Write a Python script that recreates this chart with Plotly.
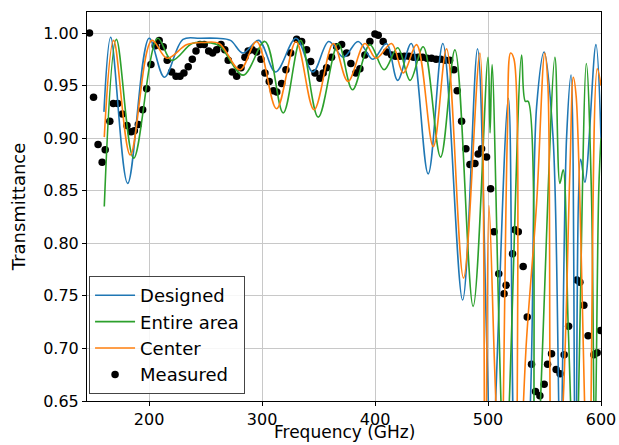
import plotly.graph_objects as go

# ---------------- data ----------------
designed_f = [160, 166, 181, 200, 213.5, 230, 245, 260, 272, 283, 297, 312, 330, 345, 359, 372,
              385, 398, 410, 420, 432, 447, 460, 477.5, 490.7, 499, 503, 518, 526, 535, 543,
              549.6, 557.6, 564, 569.5, 573.5, 577.5, 582, 585.7, 595.5, 600]
designed_T = [0.925, 0.996, 0.857, 0.995, 0.958, 0.994, 0.995, 0.995, 0.993, 0.981, 0.993, 0.963,
              0.995, 0.963, 0.992, 0.977, 0.992, 0.975, 0.990, 0.955, 0.990, 0.866, 0.990, 0.746,
              0.985, 0.700, 0.580, 0.938, 0.550, 0.600, 0.930, 0.982, 0.900, 0.600, 0.900, 0.960,
              0.550, 0.880, 0.858, 0.989, 0.900]

entire_f = [160.3, 171, 186.3, 207.6, 220, 238, 250, 262, 283.3, 302.5, 318.7, 334, 349.7, 367.4,
            380, 395.4, 408, 420, 431, 442.6, 458, 470.7, 486.8, 500, 501.8, 503.6, 515, 529.7,
            533, 535.5, 542, 559.2, 563.6, 566.5, 571, 577, 587, 591.5, 594.5, 598, 600]
entire_T = [0.835, 0.994, 0.881, 0.995, 0.974, 0.990, 0.991, 0.988, 0.960, 0.992, 0.924, 0.993,
            0.920, 0.990, 0.946, 0.989, 0.965, 0.986, 0.955, 0.987, 0.882, 0.984, 0.740, 0.977,
            0.905, 0.970, 0.580, 0.979, 0.935, 0.935, 0.570, 0.977, 0.857, 0.870, 0.720, 0.560,
            0.971, 0.850, 0.600, 0.850, 0.900]

center_f = [160.3, 168.6, 183.3, 202.5, 215.8, 233.5, 248, 262, 280.4, 295.2, 312.8, 330, 346, 363,
            376, 391, 401, 414.6, 425, 436.7, 451.5, 463.3, 478.3, 492.8, 497.5, 500.8, 506, 511,
            517, 520, 523, 526.5, 534, 543, 550.2, 553, 557.5, 565, 572.4, 575.5, 578, 589,
            596.7, 600]
center_T = [0.901, 0.993, 0.884, 0.993, 0.976, 0.989, 0.991, 0.990, 0.965, 0.992, 0.928, 0.992,
            0.927, 0.990, 0.954, 0.990, 0.976, 0.990, 0.962, 0.989, 0.892, 0.985, 0.767, 0.981,
            0.550, 0.836, 0.677, 0.550, 0.898, 0.981, 0.975, 0.550, 0.707, 0.838, 0.981, 0.950,
            0.550, 0.620, 0.866, 0.958, 0.940, 0.550, 0.966, 0.950]

measured_f = [147.2, 150.8, 154.8, 158.4, 161.1, 165.2, 168.3, 172.2, 176.3, 180.4, 184.0, 186.9,
              190.4, 194.3, 197.8, 201.6, 205.4, 208.9, 212.5, 216.0, 219.9, 223.8, 227.3, 230.8,
              234.6, 238.2, 241.5, 245.0, 248.8, 252.7, 256.2, 259.8, 263.6, 267.0, 270.0, 273.6,
              277.5, 281.3, 284.8, 287.7, 291.3, 295.2, 299.0, 302.5, 306.3, 310.0, 313.0, 317.3,
              321.1, 325.3, 330.6, 335.0, 339.4, 343.0, 346.8, 351.2, 354.1, 357.1, 361.5, 366.0,
              370.4, 374.8, 378.6, 383.0, 386.6, 391.0, 395.4, 399.9, 402.8, 407.2, 410.2, 414.6,
              418, 422, 426, 430, 434, 438, 442, 446, 450, 454, 458, 462, 466,
              469.8, 472.7, 476.6, 480.4, 484.0, 488.4, 491.3, 494.3, 498.7, 502.3, 505.3, 509.5,
              514.2, 516.0, 521.7, 523.8, 526.8, 531.1, 534.7, 538.5, 542.0, 545.9, 549.7, 552.7,
              556.2, 560.3, 563.8, 567.4, 571.3, 578.6, 581.3, 584.8, 588.6, 593.7, 596.6, 599.6]
measured_T = [1.000, 0.939, 0.894, 0.877, 0.889, 0.916, 0.933, 0.933, 0.923, 0.912, 0.906, 0.907,
              0.913, 0.927, 0.947, 0.970, 0.988, 0.993, 0.987, 0.974, 0.963, 0.959, 0.959, 0.962,
              0.968, 0.975, 0.983, 0.989, 0.989, 0.983, 0.981, 0.984, 0.989, 0.984, 0.974, 0.963,
              0.959, 0.967, 0.977, 0.983, 0.984, 0.982, 0.975, 0.962, 0.954, 0.945, 0.944, 0.952,
              0.965, 0.981, 0.994, 0.992, 0.984, 0.973, 0.962, 0.957, 0.962, 0.967, 0.977, 0.987,
              0.989, 0.981, 0.971, 0.962, 0.966, 0.979, 0.992, 0.999, 0.998, 0.992, 0.982, 0.979,
              0.978, 0.978, 0.978, 0.978, 0.977, 0.977, 0.977, 0.976, 0.976, 0.975, 0.975, 0.974, 0.974,
              0.965, 0.945, 0.916, 0.890, 0.875, 0.876, 0.885, 0.890, 0.882, 0.852, 0.811, 0.771,
              0.752, 0.760, 0.790, 0.813, 0.811, 0.778, 0.730, 0.685, 0.659, 0.655, 0.666, 0.685,
              0.695, 0.680, 0.676, 0.694, 0.721, 0.765, 0.763, 0.741, 0.712, 0.694, 0.696, 0.717]

x_ticks = [200, 300, 400, 500, 600]
y_ticks = [0.65, 0.70, 0.75, 0.80, 0.85, 0.90, 0.95, 1.00]
x_title = "Frequency (GHz)"
y_title = "Transmittance"

FONT = "DejaVu Sans"
BLUE, ORANGE, GREEN = "#1f77b4", "#ff7f0e", "#2ca02c"

fig = go.Figure()
fig.add_trace(go.Scatter(x=measured_f, y=measured_T, mode="markers", name="Measured",
                         marker=dict(color="black", size=7.5), legendrank=4))
fig.add_trace(go.Scatter(x=designed_f, y=designed_T, mode="lines", name="Designed",
                         line=dict(color=BLUE, width=1.6, shape="spline", smoothing=1.0),
                         legendrank=1))
fig.add_trace(go.Scatter(x=entire_f, y=entire_T, mode="lines", name="Entire area",
                         line=dict(color=GREEN, width=1.6, shape="spline", smoothing=1.0),
                         legendrank=2))
fig.add_trace(go.Scatter(x=center_f, y=center_T, mode="lines", name="Center",
                         line=dict(color=ORANGE, width=1.6, shape="spline", smoothing=1.0),
                         legendrank=3))

axis_common = dict(showline=True, linecolor="black", linewidth=1, mirror=True,
                   ticks="outside", ticklen=4, tickcolor="black", automargin=False,
                   showgrid=True, gridcolor="#c8c8c8", gridwidth=1.3, zeroline=False,
                   tickfont=dict(family=FONT, size=16, color="black"))

fig.update_xaxes(range=[145, 600], tickvals=x_ticks, **axis_common)
fig.update_yaxes(range=[0.65, 1.02], tickvals=y_ticks, tickformat=".2f",
                 title=dict(text=y_title, font=dict(family=FONT, size=18, color="black"),
                            standoff=12),
                 **axis_common)

# x-axis title placed below the tick labels, as in the reference
fig.add_annotation(text=x_title, xref="paper", yref="paper", x=0.5, y=-0.1105,
                   xanchor="center", yanchor="bottom", showarrow=False,
                   font=dict(family=FONT, size=17, color="black"))

fig.update_layout(
    width=619, height=445,
    margin=dict(l=87, r=18, t=12, b=44),
    paper_bgcolor="white", plot_bgcolor="white",
    font=dict(family=FONT, size=17, color="black"),
    showlegend=True,
    legend=dict(x=0.004, y=0.018, xanchor="left", yanchor="bottom",
                bgcolor="rgba(255,255,255,0.85)", bordercolor="#444", borderwidth=1,
                font=dict(family=FONT, size=18, color="black"),
                tracegroupgap=0, itemwidth=40),
)

fig.write_html("out.html", config={"displayModeBar": False},
               post_script="document.body.style.margin='0px';document.body.style.padding='0px';")
